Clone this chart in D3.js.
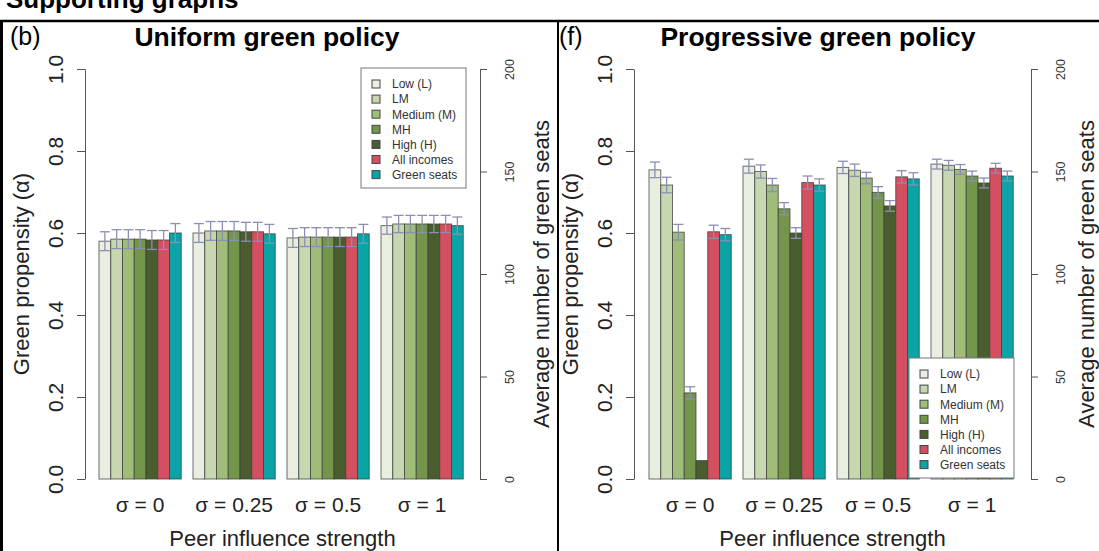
<!DOCTYPE html>
<html>
<head>
<meta charset="utf-8">
<script src="https://cdn.jsdelivr.net/npm/d3@7"></script>
<style>
  body { margin: 0; background: #fff; }
  svg { font-family: "Liberation Sans", Arial, sans-serif; }
</style>
</head>
<body>
<div id="chart"></div>
<script>
// Data
const sigmas = ["σ = 0", "σ = 0.25", "σ = 0.5", "σ = 1"];
const categories = ["Low (L)", "LM", "Medium (M)", "MH", "High (H)", "All incomes", "Green seats"];
const colors = ["#e9efe0", "#c7d8b0", "#9fbc78", "#73964a", "#4a5d2f", "#d44f60", "#0aa3a6"];

// Uniform green policy: rows = sigma, cols = category (green seats shown as seats/200)
const uniformValues = [
  [0.580, 0.585, 0.585, 0.585, 0.583, 0.583, 0.600],
  [0.600, 0.605, 0.605, 0.605, 0.603, 0.603, 0.598],
  [0.588, 0.590, 0.590, 0.590, 0.590, 0.590, 0.598],
  [0.618, 0.622, 0.622, 0.622, 0.622, 0.622, 0.618]
];
const uniformErrors = [
  [0.023, 0.023, 0.023, 0.023, 0.023, 0.023, 0.023],
  [0.023, 0.023, 0.023, 0.023, 0.023, 0.023, 0.023],
  [0.023, 0.023, 0.023, 0.023, 0.023, 0.023, 0.023],
  [0.021, 0.021, 0.021, 0.021, 0.021, 0.021, 0.021]
];

// Progressive green policy
const progressiveValues = [
  [0.754, 0.717, 0.602, 0.210, 0.045, 0.603, 0.596],
  [0.763, 0.750, 0.717, 0.659, 0.600, 0.723, 0.717],
  [0.760, 0.753, 0.734, 0.699, 0.666, 0.737, 0.732],
  [0.768, 0.765, 0.755, 0.739, 0.722, 0.758, 0.739]
];
const progressiveErrors = [
  [0.019, 0.019, 0.019, 0.015, 0.000, 0.016, 0.015],
  [0.017, 0.016, 0.016, 0.015, 0.013, 0.016, 0.015],
  [0.015, 0.015, 0.014, 0.014, 0.013, 0.015, 0.015],
  [0.012, 0.012, 0.012, 0.012, 0.012, 0.012, 0.012]
];

const leftTicks = [0, 0.2, 0.4, 0.6, 0.8, 1.0];
const rightTicks = [0, 50, 100, 150, 200];

const width = 1099;
const height = 551;

const svg = d3.select("#chart")
  .append("svg")
  .attr("width", width)
  .attr("height", height);

// Cut-off heading at the very top
svg.append("text")
  .attr("x", 6)
  .attr("y", 8)
  .attr("font-size", 26)
  .attr("font-weight", "bold")
  .text("Supporting graphs");

// Frame lines
svg.append("line").attr("x1", 0).attr("x2", width).attr("y1", 21).attr("y2", 21)
  .attr("stroke", "#000").attr("stroke-width", 2.5);
svg.append("line").attr("x1", 1.5).attr("x2", 1.5).attr("y1", 20).attr("y2", height)
  .attr("stroke", "#000").attr("stroke-width", 3);
svg.append("line").attr("x1", 558).attr("x2", 558).attr("y1", 20).attr("y2", height)
  .attr("stroke", "#000").attr("stroke-width", 2);

const yTop = 69;
const yBottom = 479;

function drawPanel(opts) {
  const g = svg.append("g");

  const y = d3.scaleLinear().domain([0, 1]).range([yBottom, yTop]);
  const ySeats = d3.scaleLinear().domain([0, 200]).range([yBottom, yTop]);

  const x0 = d3.scaleBand()
    .domain(sigmas)
    .range([opts.groupStart, opts.groupStart + 3 * 94 + 82.25])
    .paddingInner(0.125)
    .paddingOuter(0);

  const x1 = d3.scaleBand()
    .domain(categories)
    .range([0, x0.bandwidth()]);

  // Left axis
  const yAxis = d3.axisLeft(y)
    .tickValues(leftTicks)
    .tickFormat(d3.format(".1f"))
    .tickSize(8)
    .tickSizeOuter(0)
    .tickPadding(0);

  const ya = g.append("g")
    .attr("transform", `translate(${opts.axisX},0)`)
    .call(yAxis);
  ya.select(".domain").attr("stroke", "#555");
  ya.selectAll(".tick line").attr("stroke", "#555");
  ya.selectAll(".tick text")
    .attr("font-size", 21)
    .attr("fill", "#222")
    .attr("text-anchor", "middle")
    .attr("transform", "rotate(-90)")
    .attr("x", 0)
    .attr("y", -22)
    .attr("dy", 0);

  // Right axis (green seats)
  const yAxisR = d3.axisRight(ySeats)
    .tickValues(rightTicks)
    .tickSize(7)
    .tickSizeOuter(0)
    .tickPadding(0);

  const yr = g.append("g")
    .attr("transform", `translate(${opts.rightAxisX},0)`)
    .call(yAxisR);
  yr.select(".domain").attr("stroke", "#555");
  yr.selectAll(".tick line").attr("stroke", "#555");
  yr.selectAll(".tick text")
    .attr("font-size", 12.5)
    .attr("fill", "#333")
    .attr("text-anchor", "middle")
    .attr("transform", "rotate(-90)")
    .attr("x", 0)
    .attr("y", 34)
    .attr("dy", 0);

  // Bars
  const groups = g.selectAll(".group")
    .data(opts.values)
    .enter()
    .append("g")
    .attr("class", "group")
    .attr("transform", (d, i) => `translate(${x0(sigmas[i])},0)`);

  groups.selectAll("rect")
    .data((d) => d)
    .enter()
    .append("rect")
    .attr("x", (d, j) => x1(categories[j]))
    .attr("y", (d) => y(d))
    .attr("width", x1.bandwidth())
    .attr("height", (d) => yBottom - y(d))
    .attr("fill", (d, j) => colors[j])
    .attr("stroke", "#3d3d3d")
    .attr("stroke-opacity", 0.75)
    .attr("stroke-width", 1);

  // Error bars
  const err = groups.selectAll(".err")
    .data((d, i) => d.map((v, j) => ({ v: v, e: opts.errors[i][j], j: j })).filter((o) => o.e > 0))
    .enter()
    .append("g")
    .attr("class", "err")
    .attr("stroke", "#8b8fb3")
    .attr("stroke-width", 1.3);

  err.append("line")
    .attr("x1", (d) => x1(categories[d.j]) + x1.bandwidth() / 2)
    .attr("x2", (d) => x1(categories[d.j]) + x1.bandwidth() / 2)
    .attr("y1", (d) => y(d.v - d.e))
    .attr("y2", (d) => y(d.v + d.e));
  [1, -1].forEach((s) => {
    err.append("line")
      .attr("x1", (d) => x1(categories[d.j]) + x1.bandwidth() / 2 - 5)
      .attr("x2", (d) => x1(categories[d.j]) + x1.bandwidth() / 2 + 5)
      .attr("y1", (d) => y(d.v + s * d.e))
      .attr("y2", (d) => y(d.v + s * d.e));
  });

  // Group labels
  g.selectAll(".glabel")
    .data(sigmas)
    .enter()
    .append("text")
    .attr("x", (d) => x0(d) + x0.bandwidth() / 2)
    .attr("y", 512)
    .attr("text-anchor", "middle")
    .attr("font-size", 21)
    .attr("fill", "#222")
    .text((d) => d);

  // Axis titles
  g.append("text")
    .attr("x", (opts.axisX + opts.rightAxisX) / 2)
    .attr("y", 546)
    .attr("text-anchor", "middle")
    .attr("font-size", 22)
    .attr("fill", "#222")
    .text("Peer influence strength");

  g.append("text")
    .attr("transform", `translate(${opts.axisX - 56},${(yTop + yBottom) / 2}) rotate(-90)`)
    .attr("text-anchor", "middle")
    .attr("font-size", 22)
    .attr("fill", "#222")
    .text("Green propensity (α)");

  g.append("text")
    .attr("transform", `translate(${opts.rightAxisX + opts.rightTitleOffset},${(yTop + yBottom) / 2}) rotate(-90)`)
    .attr("text-anchor", "middle")
    .attr("font-size", 22)
    .attr("fill", "#222")
    .text("Average number of green seats");

  // Panel letter and title
  g.append("text")
    .attr("x", opts.axisX - 75)
    .attr("y", 45)
    .attr("font-size", 25)
    .text(opts.letter);

  g.append("text")
    .attr("x", opts.titleX)
    .attr("y", 46)
    .attr("text-anchor", "middle")
    .attr("font-size", 26.5)
    .attr("font-weight", "bold")
    .text(opts.title);

  // Legend
  const lg = g.append("g")
    .attr("transform", `translate(${opts.legend.x},${opts.legend.y})`);
  lg.append("rect")
    .attr("width", 105)
    .attr("height", 120)
    .attr("fill", "#fff")
    .attr("stroke", "#777");
  const items = lg.selectAll(".item")
    .data(categories)
    .enter()
    .append("g")
    .attr("transform", (d, i) => `translate(11,${16 + i * 15.1})`);
  items.append("rect")
    .attr("x", 0)
    .attr("y", -4)
    .attr("width", 8)
    .attr("height", 8)
    .attr("fill", (d, i) => colors[i])
    .attr("stroke", "#444");
  items.append("text")
    .attr("x", 20)
    .attr("y", 0)
    .attr("dy", "0.36em")
    .attr("font-size", 12)
    .attr("fill", "#333")
    .text((d) => d);
}

drawPanel({
  values: uniformValues,
  errors: uniformErrors,
  axisX: 85,
  rightAxisX: 480,
  rightTitleOffset: 69,
  groupStart: 99,
  letter: "(b)",
  title: "Uniform green policy",
  titleX: 267,
  legend: { x: 361, y: 68 }
});

drawPanel({
  values: progressiveValues,
  errors: progressiveErrors,
  axisX: 634,
  rightAxisX: 1031,
  rightTitleOffset: 63,
  groupStart: 649,
  letter: "(f)",
  title: "Progressive green policy",
  titleX: 818,
  legend: { x: 909, y: 358 }
});
</script>
</body>
</html>
